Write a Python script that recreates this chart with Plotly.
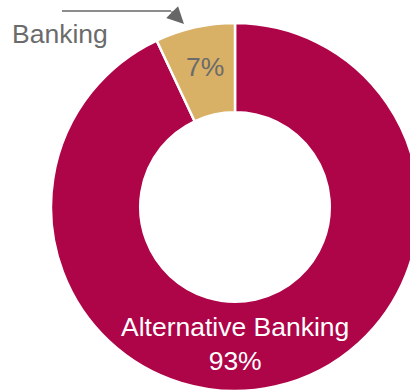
import plotly.graph_objects as go

# Share of banking activity
labels = ["Alternative Banking", "Banking"]
values = [93, 7]
colors = ["#AE0448", "#D9B166"]

W, H = 430, 391          # canvas (right edge runs past the visible window)
CX, CY, R = 235, 207, 184  # donut centre / outer radius in pixels

def px(x):
    return x / W

def py(y):
    return 1 - y / H

fig = go.Figure(
    go.Pie(
        labels=labels,
        values=values,
        hole=0.515,
        sort=False,
        direction="clockwise",
        rotation=0,
        marker=dict(colors=colors, line=dict(color="white", width=2.5)),
        textinfo="none",
        hoverinfo="label+percent",
        showlegend=False,
        domain=dict(x=[px(CX - R), px(CX + R)], y=[py(CY + R), py(CY - R)]),
    )
)

total = sum(values)
pct = [f"{round(v / total * 100)}%" for v in values]
font = "Arial, Liberation Sans, sans-serif"
FS = 26.5

fig.add_annotation(
    x=px(205), y=py(67), xref="paper", yref="paper",
    text=pct[1], showarrow=False, xanchor="center", yanchor="middle",
    font=dict(family=font, size=FS, color="#6B6B6B"),
)
fig.add_annotation(
    x=px(CX), y=py(344), xref="paper", yref="paper",
    text=f"{labels[0]}<br>{pct[0]}", showarrow=False,
    xanchor="center", yanchor="middle",
    font=dict(family=font, size=FS, color="white"),
)
fig.add_annotation(
    x=px(10), y=py(34), xref="paper", yref="paper",
    text=labels[1], showarrow=False, xanchor="left", yanchor="middle",
    font=dict(family=font, size=FS, color="#6B6B6B"),
)

# Pointer from the label towards the small slice
fig.add_shape(
    type="line", xref="paper", yref="paper",
    x0=px(62), y0=py(11), x1=px(171), y1=py(11),
    line=dict(color="#666666", width=1.6),
)
fig.add_annotation(
    x=px(184), y=py(24), xref="paper", yref="paper",
    ax=-14, ay=-14, text="", showarrow=True,
    arrowhead=2, arrowsize=2.1, arrowwidth=1.6, arrowcolor="#666666",
    standoff=0,
)

fig.update_layout(
    width=W, height=H,
    margin=dict(l=0, r=0, t=0, b=0),
    paper_bgcolor="white",
    plot_bgcolor="white",
)

fig.write_html(
    "out.html",
    post_script="document.body.style.margin='0';"
                "document.body.style.overflow='hidden';"
                "document.documentElement.style.overflow='hidden';",
)
